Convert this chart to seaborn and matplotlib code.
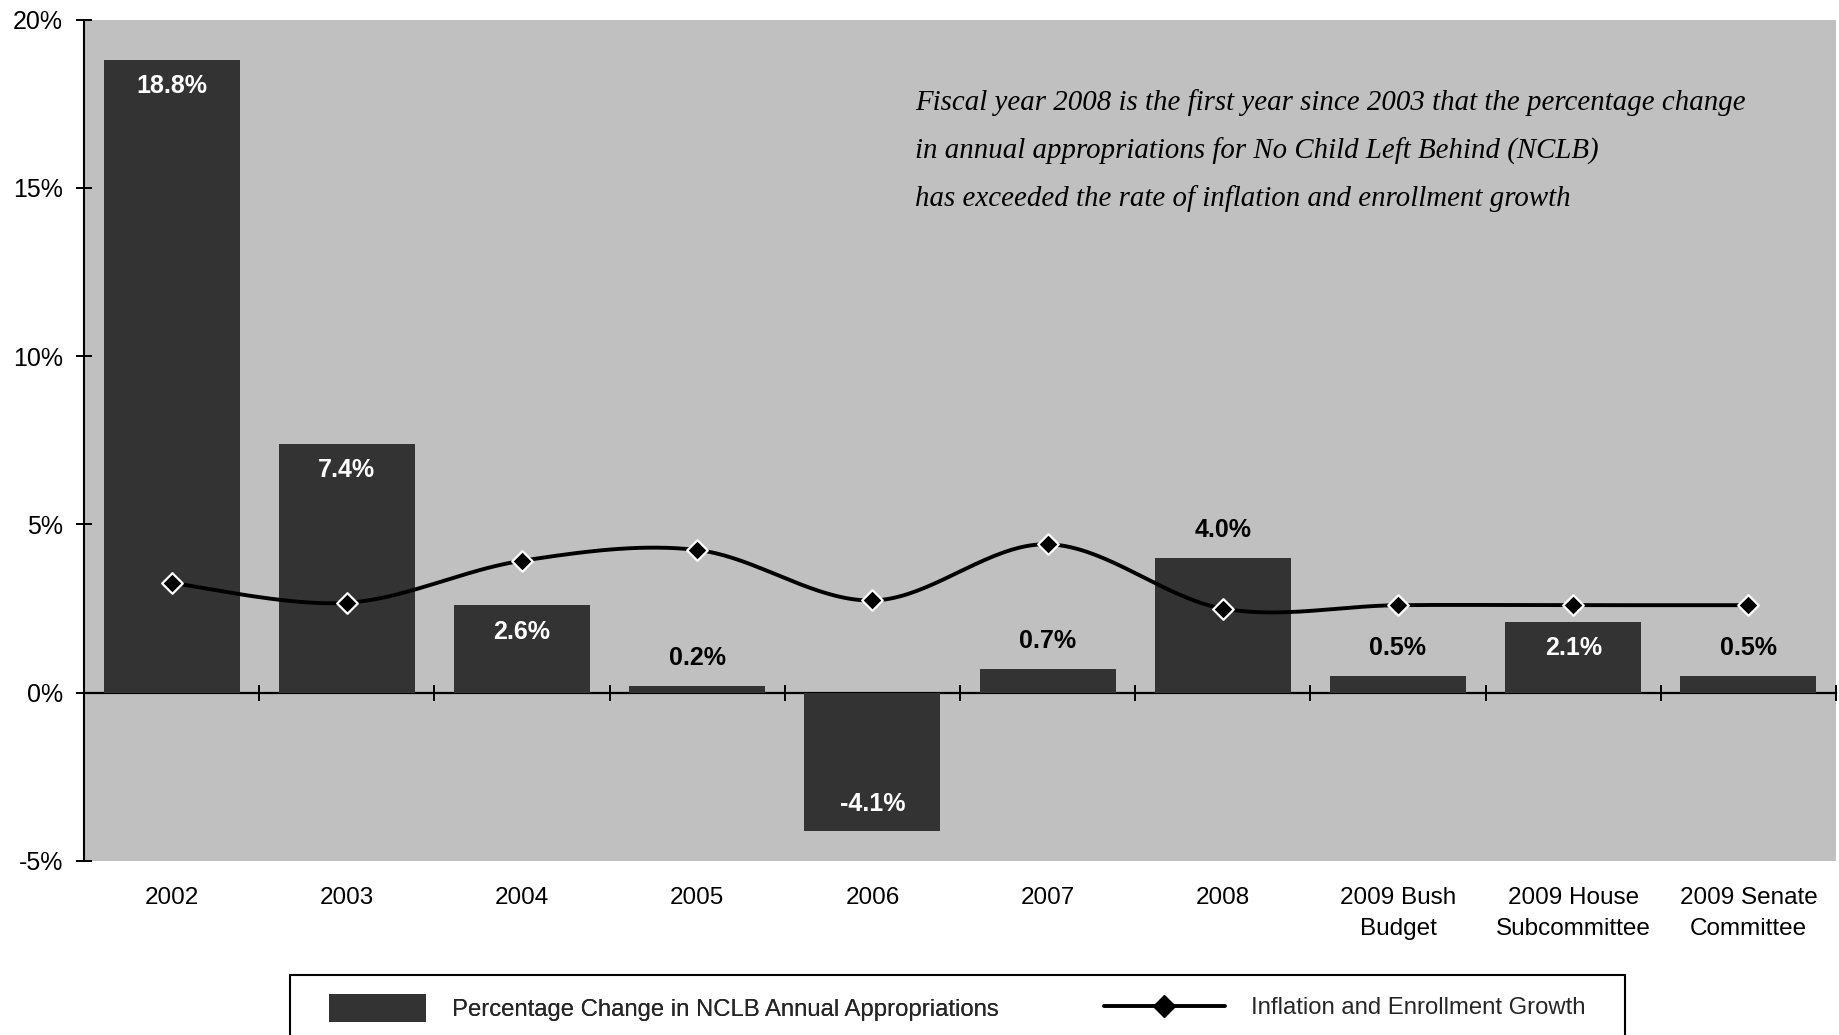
import numpy as np
import pandas as pd
import matplotlib
matplotlib.use("Agg")
import matplotlib.pyplot as plt
import seaborn as sns
from matplotlib.patches import Patch, Rectangle
from matplotlib.lines import Line2D

# Data
categories = ["2002", "2003", "2004", "2005", "2006", "2007", "2008",
              "2009 Bush\nBudget", "2009 House\nSubcommittee", "2009 Senate\nCommittee"]
nclb_change = [18.8, 7.4, 2.6, 0.2, -4.1, 0.7, 4.0, 0.5, 2.1, 0.5]
inflation_growth = [3.26, 2.67, 3.92, 4.24, 2.74, 4.41, 2.5, 2.6, 2.6, 2.6]
y_ticks = [-5, 0, 5, 10, 15, 20]
note_lines = [
    "Fiscal year 2008 is the first year since 2003 that the percentage change",
    "in annual appropriations for No Child Left Behind (NCLB)",
    "has exceeded the rate of inflation and enrollment growth",
]

df = pd.DataFrame({"category": categories, "nclb": nclb_change,
                   "inflation": inflation_growth, "pos": np.arange(len(categories))})

BAR = "#333333"
BG = "#c0c0c0"

sns.set_theme(style="white")
plt.rcParams["font.family"] = ["Liberation Sans", "DejaVu Sans"]

W, H = 1839, 1035
fig = plt.figure(figsize=(W / 100, H / 100), dpi=100)
ax = fig.add_axes([84 / W, 1 - 861 / H, 1752 / W, (861 - 19.5) / H])
ax.set_facecolor(BG)

sns.barplot(data=df, x="category", y="nclb", color=BAR, saturation=1,
            width=0.776, linewidth=0, ax=ax, zorder=2)


def smooth(x, y, n=40):
    # Excel-style smoothed line: cubic bezier with catmull-rom control points
    x = np.asarray(x, float)
    y = np.asarray(y, float)
    px = np.concatenate([[x[0]], x, [x[-1]]])
    py = np.concatenate([[y[0]], y, [y[-1]]])
    t = np.linspace(0, 1, n)[:, None]
    out = []
    for i in range(1, len(px) - 2):
        p0 = np.array([px[i - 1], py[i - 1]])
        p1 = np.array([px[i], py[i]])
        p2 = np.array([px[i + 1], py[i + 1]])
        p3 = np.array([px[i + 2], py[i + 2]])
        c1 = p1 + (p2 - p0) / 6
        c2 = p2 - (p3 - p1) / 6
        seg = ((1 - t) ** 3) * p1 + 3 * ((1 - t) ** 2) * t * c1 \
            + 3 * (1 - t) * t ** 2 * c2 + t ** 3 * p2
        out.append(seg)
    out = np.vstack(out)
    return out[:, 0], out[:, 1]


sx, sy = smooth(df["pos"], df["inflation"])
ax.plot(sx, sy, color="black", lw=2.8, zorder=4, solid_capstyle="round")
sns.scatterplot(data=df, x="pos", y="inflation", marker="D", s=110, color="black",
                edgecolor="white", linewidth=1.6, zorder=5, ax=ax, legend=False)

# bar value labels
label_inside = [True, True, True, False, True, False, False, False, True, False]
for i, (v, inside) in enumerate(zip(nclb_change, label_inside)):
    if inside:
        dy = -19 if v >= 0 else 19
        col = "white"
    else:
        dy = 20
        col = "black"
    ax.annotate(f"{v:.1f}%", xy=(i, v), xytext=(0, dy), textcoords="offset points",
                ha="center", va="center", fontsize=18, fontweight="bold", color=col,
                zorder=6)

ax.set_xlim(-0.5, len(categories) - 0.5)
ax.set_ylim(y_ticks[0], y_ticks[-1])
ax.set_yticks(y_ticks)
ax.set_yticklabels([f"{v}%" for v in y_ticks])
ax.set_xlabel("")
ax.set_ylabel("")
ax.grid(False)
for s in ["top", "right", "bottom"]:
    ax.spines[s].set_visible(False)
ax.spines["left"].set_color("black")
ax.spines["left"].set_linewidth(1.5)
ax.tick_params(axis="y", direction="inout", length=11, width=1.4, color="black",
               labelsize=18, pad=9.5, labelcolor="black", left=True)
ax.tick_params(axis="x", length=0, pad=18.5, labelsize=17.5, labelcolor="black")
for lbl in ax.get_xticklabels():
    lbl.set_linespacing(1.55)

# category axis crossing at zero
zero_frac = (0 - y_ticks[0]) / (y_ticks[-1] - y_ticks[0])
sec = ax.secondary_xaxis(zero_frac)
sec.set_xticks(np.arange(len(categories)) + 0.5)
sec.tick_params(direction="inout", length=11, width=1.4, color="black", labelbottom=False)
sec.spines["bottom"].set_color("black")
sec.spines["bottom"].set_linewidth(1.6)
for s in ["top", "left", "right"]:
    sec.spines[s].set_visible(False)

# note text
for k, line in enumerate(note_lines):
    fig.text(915 / W, 1 - (103 + 48 * k) / H, line, ha="left", va="center",
             fontsize=20.8, style="italic", family=["Liberation Serif", "DejaVu Serif"],
             color="black")

# legend box
fig.patches.append(Rectangle((290 / W, -0.05), 1335 / W, 0.05 + 60 / H,
                             transform=fig.transFigure, facecolor="white",
                             edgecolor="black", lw=1.5, zorder=0))
leg1 = fig.legend(handles=[Patch(facecolor=BAR, edgecolor="none",
                                 label="Percentage Change in NCLB Annual Appropriations")],
                  loc="center left", bbox_to_anchor=(329 / W, 1 - 1008 / H),
                  frameon=False, fontsize=17.2, handlelength=4.05, handleheight=1.4,
                  handletextpad=1.1, borderpad=0, borderaxespad=0)
fig.legend(handles=[Line2D([], [], color="black", lw=2.8, marker="D", ms=11,
                           mfc="black", mec="black",
                           label="Inflation and Enrollment Growth")],
           loc="center left", bbox_to_anchor=(1104 / W, 1 - 1008 / H),
           frameon=False, fontsize=17.2, handlelength=5.05,
           handletextpad=1.1, borderpad=0, borderaxespad=0)
fig.add_artist(leg1)

fig.savefig("out.png", dpi=100, facecolor="white")
